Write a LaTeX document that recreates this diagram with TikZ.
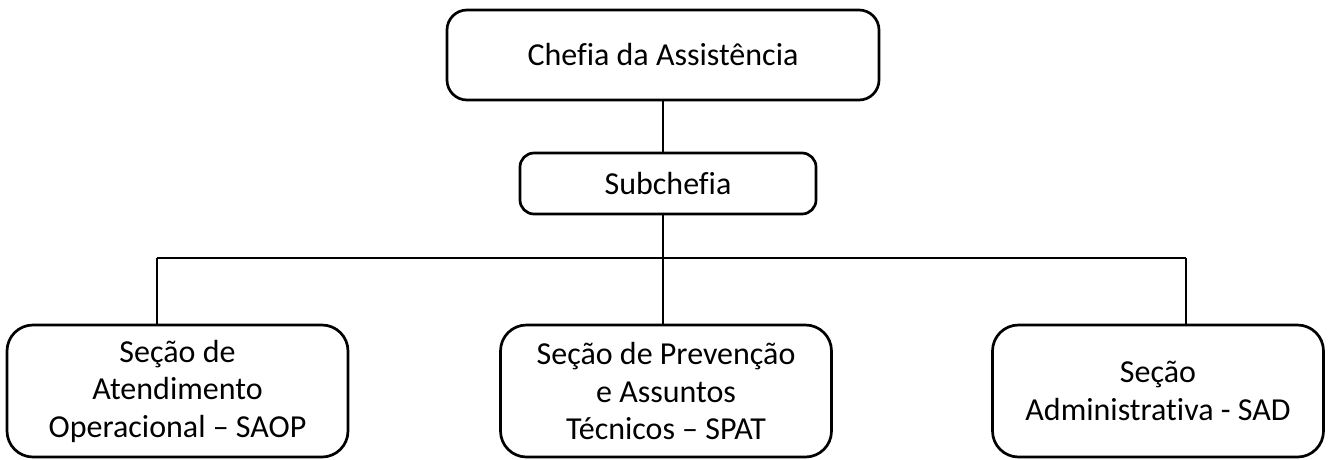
\documentclass[tikz,border=0pt]{standalone}
\usepackage{fontspec}
\setmainfont{Carlito}[Ligatures=CommonOff]
\usetikzlibrary{positioning}

\begin{document}
\begin{tikzpicture}[x=1pt, y=-1pt, line width=2.7pt, inner sep=0pt,
      font=\fontsize{32}{37.5}\selectfont,
      unit/.style={rectangle, draw, align=center, rounded corners=20pt},
      section/.style={unit, rounded corners=26pt, minimum height=132pt, minimum width=331pt}]
      \useasboundingbox (0,0) rectangle (1328,459);
      % chefia, subchefia;
      \node[unit, minimum width=432pt, minimum height=90pt] (chefia) at(663,55) {Chefia da Assistência};
      \node[unit, rounded corners=14pt, minimum width=296pt, minimum height=61pt] (sub) at(668,183.5) {Subchefia};
      \draw (chefia.south) -- (chefia.south |- sub.north);
      % sections;
      \node[section, minimum width=341pt] (saop) at(177.5,391) {Seção de\\Atendimento\\Operacional -- SAOP};
      \node[section] (spat) at(666,391) {Seção de Prevenção\\e Assuntos\\Técnicos -- SPAT};
      \node[section] (sad) at(1158,391) {Seção\\Administrativa - SAD};
      % bar;
      \coordinate (left) at(157,258);
      \coordinate (right) at(1186,258);
      \draw (left) -- (right);
      \draw (chefia.south |- sub.south) -- (chefia.south |- spat.north);
      \draw (left) -- (left |- saop.north);
      \draw (right) -- (right |- sad.north);
\end{tikzpicture}
\end{document}
